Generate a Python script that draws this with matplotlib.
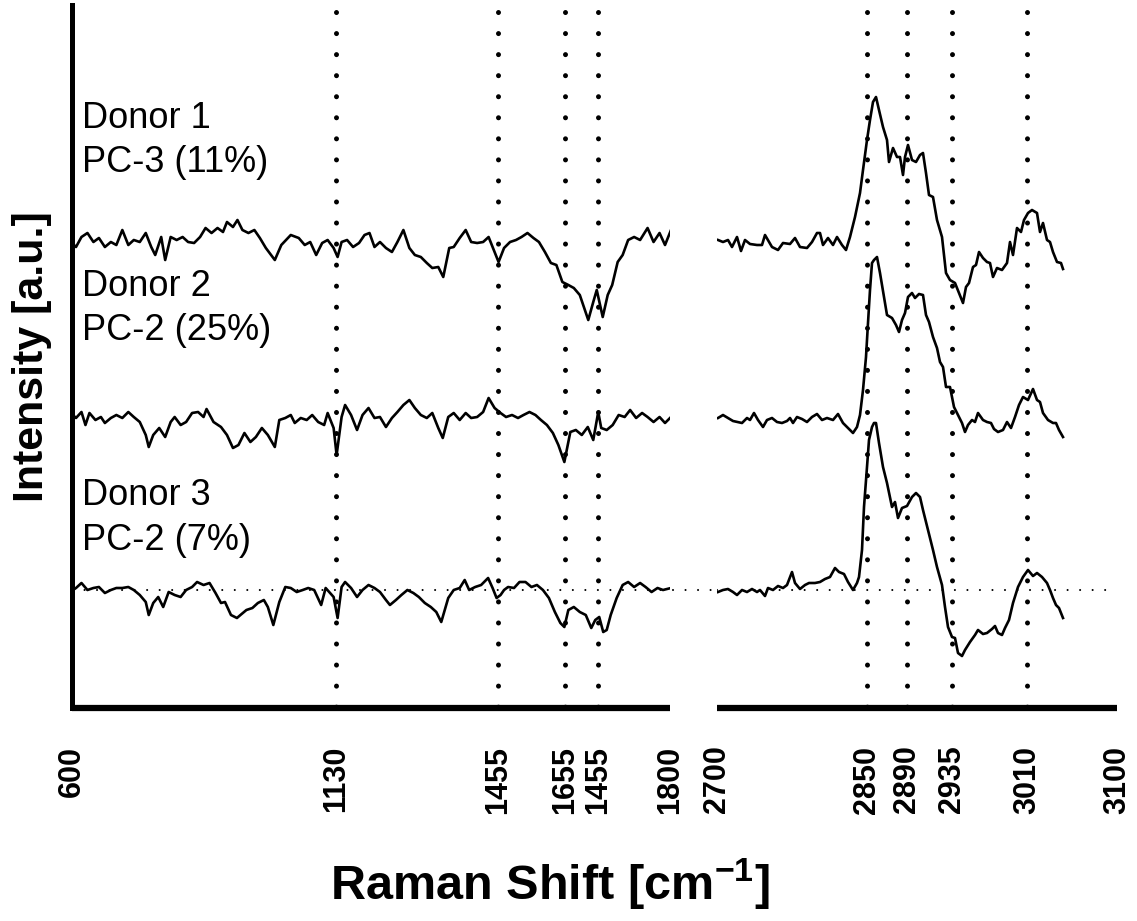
import numpy as np
import matplotlib
matplotlib.use("Agg")
import matplotlib.pyplot as plt

plt.rcParams['font.family'] = ['Liberation Sans', 'DejaVu Sans']
plt.rcParams['mathtext.fontset'] = 'custom'
plt.rcParams['mathtext.rm'] = 'Liberation Sans:bold'
plt.rcParams['mathtext.default'] = 'rm'

# spectra as (wavenumber, intensity a.u.)
D1_LOW = [(602, -4), (608, -7), (619, 3), (631, 7), (643, -2), (654, 2), (666, -7), (678, -2), (689, -5), (701, 10),
          (713, -5), (724, 0), (736, -2), (748, 7), (759, -7), (767, -15), (779, 3), (787, -20), (798, 3),
          (810, 0), (822, 3), (833, -2), (845, -3), (857, 3), (868, 12), (880, 7), (892, 12), (903, 8),
          (911, 18), (923, 13), (932, 20), (942, 10), (954, 7), (966, 10), (977, 2), (989, -8), (1007, -20),
          (1020, -5), (1039, 5), (1055, 2), (1067, -5), (1078, -2), (1090, -15), (1102, -3), (1113, 0),
          (1125, -8), (1133, -17), (1141, -2), (1152, 0), (1164, -7), (1176, -3), (1187, 5), (1197, 7),
          (1207, -7), (1218, -2), (1230, -8), (1242, -12), (1253, -2), (1265, 10), (1277, -8), (1288, -15),
          (1300, -17), (1312, -23), (1323, -28), (1335, -27), (1345, -37), (1357, -8), (1366, -7), (1378, 2),
          (1390, 10), (1401, -2), (1413, -3), (1425, -2), (1436, 3), (1448, -12), (1456, -22), (1467, -8),
          (1479, -2), (1491, 0), (1502, 3), (1514, 7), (1526, 2), (1537, -2), (1549, -12), (1561, -23),
          (1572, -25), (1584, -42), (1596, -45), (1607, -48), (1619, -55), (1636, -80), (1646, -62),
          (1653, -50), (1665, -77), (1675, -55), (1684, -45), (1695, -22), (1705, -15), (1716, 0),
          (1728, 3), (1740, 0), (1755, 12), (1767, -2), (1779, 7), (1790, -5), (1802, 10)]

D2_LOW = [(602, 0), (608, -3), (619, 3), (627, -10), (635, 2), (647, -5), (658, -2), (666, -8), (678, -3), (689, 0),
          (701, -3), (713, 3), (724, -2), (736, -7), (748, -20), (754, -32), (763, -20), (775, -13),
          (787, -22), (798, -7), (806, -2), (818, -10), (829, -7), (841, 2), (853, 3), (864, -2), (870, 6),
          (884, -7), (899, -12), (911, -20), (923, -33), (934, -30), (946, -18), (958, -27), (969, -22),
          (981, -13), (993, -20), (1007, -32), (1016, -5), (1028, -3), (1039, 0), (1047, -8), (1059, -3),
          (1071, -5), (1082, 0), (1094, -7), (1106, -10), (1113, 2), (1125, -13), (1131, -40), (1141, -2),
          (1148, 10), (1160, 0), (1172, -15), (1183, 0), (1195, 7), (1207, -3), (1218, -2), (1230, -12),
          (1242, -3), (1253, 3), (1265, 10), (1277, 15), (1288, 7), (1300, 0), (1312, -3), (1323, 2),
          (1335, -13), (1344, -23), (1355, -2), (1366, 2), (1378, -5), (1390, 2), (1401, -3), (1413, -2),
          (1425, 3), (1436, 17), (1448, 7), (1460, 2), (1471, -2), (1483, 0), (1495, -3), (1506, 0),
          (1518, 3), (1530, 0), (1541, -5), (1553, -10), (1565, -18), (1576, -30), (1588, -47), (1600, -17),
          (1611, -15), (1623, -20), (1635, -12), (1646, -25), (1656, 3), (1662, -13), (1673, -15),
          (1685, -10), (1697, 0), (1709, -2), (1720, 5), (1732, -3), (1744, 2), (1755, -2), (1767, -7),
          (1779, -2), (1790, -8), (1802, -2)]

D3_LOW = [(602, 0), (608, 2), (619, 7), (631, 0), (643, 2), (654, 3), (666, -3), (678, 0), (689, 2), (701, 2),
          (713, 3), (724, 0), (736, -5), (748, -12), (754, -25), (763, -13), (773, -7), (783, -17),
          (794, -2), (806, -5), (818, -7), (829, 0), (841, 3), (851, 8), (864, 5), (876, 7), (888, -3),
          (899, -13), (907, -12), (919, -25), (931, -28), (938, -25), (950, -20), (962, -18), (973, -13),
          (985, -10), (993, -17), (1004, -35), (1016, -12), (1028, 3), (1039, 2), (1051, -2), (1063, 0),
          (1074, 2), (1086, 0), (1100, -15), (1109, 2), (1125, -7), (1133, -28), (1141, 3), (1148, 8),
          (1160, 2), (1172, -7), (1183, 0), (1195, 5), (1207, 2), (1218, -2), (1230, -10), (1238, -15),
          (1250, -10), (1261, -5), (1273, 0), (1285, -3), (1296, -7), (1308, -13), (1320, -17), (1331, -22),
          (1341, -32), (1355, -8), (1366, 0), (1378, 2), (1388, 10), (1397, 0), (1409, 3), (1421, 5),
          (1435, 12), (1444, 2), (1452, -8), (1460, -5), (1467, 0), (1475, 3), (1487, 2), (1498, 8),
          (1510, 8), (1522, 3), (1533, 5), (1545, 0), (1557, -8), (1569, -22), (1580, -33), (1588, -37),
          (1596, -20), (1607, -17), (1619, -22), (1631, -25), (1642, -38), (1650, -30), (1658, -27),
          (1666, -42), (1673, -40), (1681, -25), (1693, -8), (1705, 5), (1716, 8), (1728, 3), (1740, 7),
          (1751, 3), (1763, -2), (1775, 2), (1786, 0), (1802, 2)]

D1_HIGH = [(2701, 0), (2706, -2), (2711, 0), (2715, -7), (2720, 3), (2724, -11), (2728, 0), (2733, -4),
           (2740, -5), (2745, -5), (2748, 5), (2755, -7), (2761, -10), (2766, -3), (2773, -4), (2778, 2),
           (2783, -7), (2790, -8), (2795, -2), (2800, 7), (2803, 7), (2806, -5), (2811, 2), (2816, -5),
           (2820, 3), (2825, -5), (2829, -10), (2833, 3), (2838, 23), (2843, 47), (2846, 70), (2850, 100),
           (2853, 120), (2856, 138), (2859, 143), (2862, 130), (2866, 113), (2870, 100), (2872, 78),
           (2876, 92), (2880, 83), (2883, 83), (2886, 65), (2888, 83), (2891, 95), (2895, 80), (2899, 78),
           (2903, 85), (2906, 87), (2909, 67), (2912, 45), (2916, 43), (2920, 20), (2925, 3), (2929, -33),
           (2933, -40), (2938, -43), (2942, -53), (2946, -63), (2949, -47), (2952, -43), (2956, -27),
           (2959, -25), (2962, -12), (2966, -18), (2970, -22), (2973, -23), (2976, -37), (2980, -28),
           (2985, -30), (2990, -23), (2993, -2), (2996, -15), (3000, 12), (3004, 8), (3007, 20), (3011, 27),
           (3015, 30), (3020, 27), (3023, 8), (3026, 17), (3030, 0), (3033, -2), (3036, -12), (3040, -22),
           (3044, -23), (3046, -29)]

D2_HIGH = [(2701, -3), (2706, 0), (2711, -3), (2716, -6), (2725, -8), (2730, -3), (2733, -5), (2737, 2),
           (2741, -5), (2746, -12), (2750, -5), (2755, -3), (2760, -7), (2765, -8), (2770, -6), (2773, -3),
           (2776, -8), (2780, -2), (2785, -4), (2790, -7), (2795, -2), (2800, 1), (2805, -5), (2810, -3),
           (2816, -5), (2821, 1), (2826, -8), (2831, -13), (2836, -18), (2840, -12), (2843, 0), (2846, 25),
           (2849, 58), (2851, 92), (2853, 125), (2855, 152), (2857, 155), (2860, 158), (2863, 142),
           (2867, 118), (2870, 100), (2875, 97), (2879, 90), (2882, 83), (2885, 95), (2888, 102), (2891, 118),
           (2895, 122), (2898, 117), (2902, 121), (2906, 120), (2909, 100), (2912, 93), (2916, 78), (2920, 67),
           (2923, 53), (2926, 48), (2929, 28), (2933, 28), (2937, 8), (2941, 0), (2945, -8), (2948, -17),
           (2951, -10), (2955, -5), (2958, -7), (2961, 2), (2966, -5), (2970, -7), (2974, -8), (2977, -14),
           (2981, -17), (2986, -15), (2990, -7), (2994, -13), (2998, -2), (3002, 10), (3006, 18), (3011, 15),
           (3016, 26), (3020, 15), (3023, 13), (3026, 2), (3031, -5), (3036, -8), (3039, -8), (3042, -15),
           (3046, -22)]

D3_HIGH = [(2701, -2), (2706, 0), (2711, 1), (2716, -2), (2720, -5), (2725, 0), (2730, -2), (2735, 1),
           (2740, -2), (2743, 0), (2748, -6), (2751, 2), (2756, 0), (2761, 4), (2766, 2), (2770, 5), (2775, 18),
           (2778, 7), (2783, 1), (2788, 5), (2792, 7), (2798, 7), (2803, 8), (2808, 11), (2813, 13), (2818, 22),
           (2822, 18), (2827, 16), (2831, 8), (2836, 0), (2840, 7), (2842, 13), (2845, 40), (2847, 83),
           (2850, 123), (2852, 150), (2855, 163), (2857, 167), (2859, 167), (2862, 147), (2866, 123),
           (2870, 107), (2875, 83), (2878, 88), (2881, 72), (2885, 82), (2890, 84), (2895, 93), (2899, 97),
           (2903, 93), (2906, 80), (2911, 60), (2916, 40), (2920, 23), (2925, 5), (2928, -17), (2931, -37),
           (2935, -47), (2938, -48), (2941, -63), (2945, -66), (2948, -60), (2953, -52), (2958, -45),
           (2961, -40), (2966, -44), (2970, -43), (2975, -39), (2978, -36), (2981, -43), (2985, -45),
           (2988, -38), (2992, -30), (2996, -13), (3001, 3), (3006, 13), (3011, 20), (3016, 14), (3020, 17),
           (3025, 13), (3030, 7), (3033, 0), (3036, -8), (3039, -15), (3042, -18), (3046, -28)]

OFFSETS = [468, 293, 118]
LABELS = [("Donor 1", "PC-3 (11%)"), ("Donor 2", "PC-2 (25%)"), ("Donor 3", "PC-2 (7%)")]

LOW_MARKS = [1130, 1455, 1590, 1655]
HIGH_MARKS = [2850, 2890, 2935, 3010]
LOW_TICKS = [600, 1130, 1455, 1590, 1655, 1800]
LOW_TICKLABELS = ['600', '1130', '1455', '1655', '1455', '1800']
HIGH_TICKS = [2700, 2850, 2890, 2935, 3010, 3100]
HIGH_TICKLABELS = ['2700', '2850', '2890', '2935', '3010', '3100']

fig = plt.figure(figsize=(11.37, 9.21), dpi=100)
axL = fig.add_axes([72 / 1137, 1 - 708 / 921, 598 / 1137, 703 / 921])
axR = fig.add_axes([717 / 1137, 1 - 708 / 921, 400 / 1137, 703 / 921])

dots = (0, (0.01, 4.2))
for ax, marks in ((axL, LOW_MARKS), (axR, HIGH_MARKS)):
    for m in marks:
        ax.plot([m, m], [696, 0], color='black', lw=3.6, linestyle=dots,
                dash_capstyle='round', zorder=1)

# thin dotted reference line at donor 3 baseline
axL.plot([600, 1894], [OFFSETS[2], OFFSETS[2]], color='black', lw=1.5,
         linestyle=(0, (0.01, 6)), dash_capstyle='round', clip_on=False, zorder=1)
axR.plot([2700, 3100], [OFFSETS[2], OFFSETS[2]], color='black', lw=1.5,
         linestyle=(0, (0.01, 6)), dash_capstyle='round', zorder=1)

for low, high, off in zip((D1_LOW, D2_LOW, D3_LOW), (D1_HIGH, D2_HIGH, D3_HIGH), OFFSETS):
    lw_, lv = np.array(low).T
    hw, hv = np.array(high).T
    axL.plot(lw_, lv + off, color='black', lw=1.9, zorder=3)
    axR.plot(hw, hv + off, color='black', lw=1.9, zorder=3)

text_y = [(580, 536), (412, 368), (203, 158)]
for (l1, l2), (y1, y2) in zip(LABELS, text_y):
    axL.text(620, y1, l1, fontsize=26, va='baseline', ha='left')
    axL.text(620, y2, l2, fontsize=26, va='baseline', ha='left')

axL.set_xlim(600, 1800)
axR.set_xlim(2700, 3100)
for ax in (axL, axR):
    ax.set_ylim(0, 703)
    ax.set_yticks([])
    ax.spines['top'].set_visible(False)
    ax.spines['right'].set_visible(False)
    ax.spines['bottom'].set_linewidth(4.5)
    ax.spines['bottom'].set_capstyle('butt')
    ax.tick_params(axis='x', length=0, pad=27)
axR.spines['left'].set_visible(False)
axL.spines['left'].set_linewidth(3.6)

axL.set_xticks(LOW_TICKS)
axL.set_xticklabels(LOW_TICKLABELS, rotation=90, fontsize=22, fontweight='bold')
axR.set_xticks(HIGH_TICKS)
axR.set_xticklabels(HIGH_TICKLABELS, rotation=90, fontsize=22, fontweight='bold')

fig.text(550 / 1137, 1 - 884 / 921, 'Raman Shift [cm$^{-1}$]', ha='center', va='center',
         fontsize=35, fontweight='bold')
fig.text(32 / 1137, 1 - 357 / 921, 'Intensity [a.u.]', rotation=90, ha='center', va='center',
         fontsize=31, fontweight='bold')

fig.savefig('out.png', dpi=100)
